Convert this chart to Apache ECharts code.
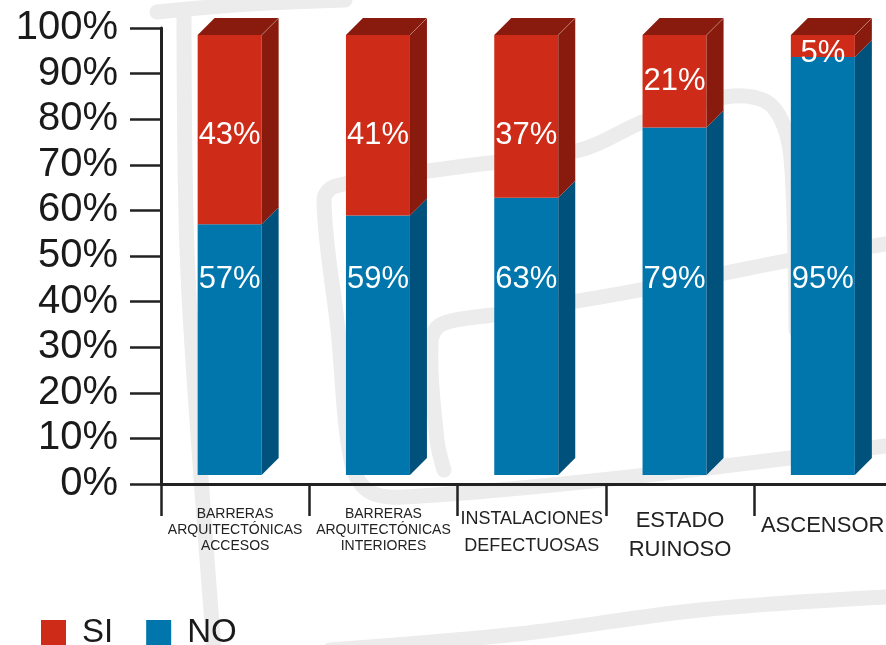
<!DOCTYPE html>
<html>
<head>
<meta charset="utf-8">
<script src="https://cdn.jsdelivr.net/npm/echarts@6/dist/echarts.min.js"></script>
<style>
  html, body { margin: 0; padding: 0; background: #ffffff; }
  #chart { width: 886px; height: 645px; }
</style>
</head>
<body>
<div id="chart"></div>
<script>
// Survey results: share of buildings with each deficiency (SI) or without it (NO)
const categories = [
  'BARRERAS\nARQUITECTÓNICAS\nACCESOS',
  'BARRERAS\nARQUITECTÓNICAS\nINTERIORES',
  'INSTALACIONES\nDEFECTUOSAS',
  'ESTADO\nRUINOSO',
  'ASCENSORES'
];
const siValues = [43, 41, 37, 21, 5];
const noValues = [57, 59, 63, 79, 95];
const yMin = 0;
const yMax = 100;
const yStep = 10;

// Text style used for each category label
const categoryLabelStyle = ['small', 'small', 'medium', 'large', 'single'];

const COLORS = {
  si: { front: '#ce2c18', side: '#891b0e', top: '#891b0e' },
  no: { front: '#0076ac', side: '#00527c' }
};
const DEPTH = 17;          // 3D extrusion of the bars (px)
const FRONT_LEFT = -37.5;  // front face edges relative to the band centre (px)
const FRONT_RIGHT = 26.5;
const NO_LABEL_RISE = 196; // NO labels sit this far above the bar foot
const SI_LABEL_DROP = 100; // SI labels in tall segments sit this far below the top
const FONT = '"Liberation Sans", Arial, Helvetica, sans-serif';

function siLabelY(yt, yb) {
  const centre = (yt + yb) / 2;
  if (centre - yt > 60) return yt + SI_LABEL_DROP;
  return Math.max(centre, yt + 18);
}

function segmentRenderer(colors, isTopSegment) {
  return function (params, api) {
    const idx = api.value(0);
    const val = api.value(1);
    const base = api.value(2);
    const pBase = api.coord([idx, base]);
    const pTop = api.coord([idx, base + val]);
    const x0 = pBase[0] + FRONT_LEFT;
    const x1 = pBase[0] + FRONT_RIGHT;
    const yb = pBase[1];
    const yt = pTop[1];
    const children = [
      {
        type: 'rect',
        shape: { x: x0, y: yt, width: x1 - x0, height: yb - yt },
        style: { fill: colors.front }
      },
      {
        type: 'polygon',
        shape: { points: [[x1, yb], [x1 + DEPTH, yb - DEPTH], [x1 + DEPTH, yt - DEPTH], [x1, yt]] },
        style: { fill: colors.side }
      }
    ];
    if (isTopSegment) {
      children.push({
        type: 'polygon',
        shape: { points: [[x0, yt], [x0 + DEPTH, yt - DEPTH], [x1 + DEPTH, yt - DEPTH], [x1, yt]] },
        style: { fill: colors.top }
      });
      children.push({
        type: 'line',
        shape: { x1: x1, y1: yt, x2: x1 + DEPTH, y2: yt - DEPTH },
        style: { stroke: 'rgba(255,255,255,0.25)', lineWidth: 1 }
      });
    }
    const labelY = isTopSegment ? siLabelY(yt, yb) : yb - NO_LABEL_RISE;
    children.push({
      type: 'text',
      style: {
        text: val + '%',
        x: (x0 + x1) / 2,
        y: labelY,
        align: 'center',
        verticalAlign: 'middle',
        fill: '#ffffff',
        fontSize: 31,
        fontFamily: FONT
      }
    });
    return { type: 'group', children: children };
  };
}

// Faint decorative line drawing behind the plot
const decoStyle = { stroke: '#ececec', lineWidth: 15, lineCap: 'round', lineJoin: 'round', fill: null };
const decoPaths = [
  [[157, 12], [250, 4], [345, 0]],
  [[184, 14], [187, 250], [199, 450], [214, 650]],
  [[886, 446], [620, 478], [420, 496], [372, 493], [352, 465], [338, 330], [324, 200], [336, 186], [450, 168], [580, 150], [645, 121], [725, 97], [765, 101], [784, 126], [792, 170], [796, 330]],
  [[886, 244], [791, 260], [640, 290], [500, 314], [442, 324], [431, 342], [437, 440], [444, 470]],
  [[330, 650], [518, 634], [700, 610], [886, 597]]
];

const chart = echarts.init(document.getElementById('chart'), null, { renderer: 'canvas' });

const option = {
  backgroundColor: '#ffffff',
  animation: false,
  graphic: {
    elements: decoPaths.map(function (pts) {
      return { type: 'polyline', z: -10, silent: true, shape: { points: pts, smooth: 0.35 }, style: decoStyle };
    })
  },
  legend: {
    data: ['SI', 'NO'],
    left: 41,
    top: 616,
    padding: 0,
    icon: 'rect',
    itemWidth: 25,
    itemHeight: 25,
    itemGap: 33,
    textStyle: { fontSize: 33, color: '#1a1a1a', fontFamily: FONT, padding: [0, 0, 0, 11] }
  },
  grid: { left: 161, top: 28, width: 741.5, height: 456, outerBoundsMode: 'none' },
  xAxis: {
    type: 'category',
    data: categories,
    axisLine: { show: true, lineStyle: { color: '#222', width: 3 } },
    axisTick: { show: true, alignWithLabel: false, length: 32, lineStyle: { color: '#222', width: 2.5 } },
    axisLabel: {
      interval: 0,
      margin: 22,
      color: '#222',
      fontFamily: FONT,
      formatter: function (value, index) {
        const key = categoryLabelStyle[index];
        return value.split('\n').map(function (l) { return '{' + key + '|' + l + '}'; }).join('\n');
      },
      rich: {
        small: { fontSize: 14, lineHeight: 16, fontFamily: FONT, color: '#222' },
        medium: { fontSize: 18, lineHeight: 27, fontFamily: FONT, color: '#222' },
        large: { fontSize: 22, lineHeight: 29, fontFamily: FONT, color: '#222' },
        single: { fontSize: 22, lineHeight: 40, fontFamily: FONT, color: '#222', padding: [0, 0, 0, 18] }
      }
    }
  },
  yAxis: [
    {
      type: 'value',
      min: yMin,
      max: yMax,
      interval: yStep,
      axisLine: { show: true, lineStyle: { color: '#222', width: 3 } },
      axisTick: { show: true, length: 31, lineStyle: { color: '#222', width: 2.5 } },
      splitLine: { show: false },
      axisLabel: { formatter: '{value}%', fontSize: 40, margin: 43, color: '#1a1a1a', fontFamily: FONT }
    },
    {
      // bars stand slightly inside the axis range
      type: 'value',
      show: false,
      min: -2.05,
      max: 101.6,
      splitLine: { show: false }
    }
  ],
  series: [
    {
      name: 'NO',
      type: 'custom',
      yAxisIndex: 1,
      itemStyle: { color: COLORS.no.front },
      encode: { x: 0, y: 1 },
      data: categories.map(function (c, i) { return [i, noValues[i], 0]; }),
      renderItem: segmentRenderer(COLORS.no, false)
    },
    {
      name: 'SI',
      type: 'custom',
      yAxisIndex: 1,
      itemStyle: { color: COLORS.si.front },
      encode: { x: 0, y: 1 },
      data: categories.map(function (c, i) { return [i, siValues[i], noValues[i]]; }),
      renderItem: segmentRenderer(COLORS.si, true)
    }
  ]
};

chart.setOption(option);
</script>
</body>
</html>
